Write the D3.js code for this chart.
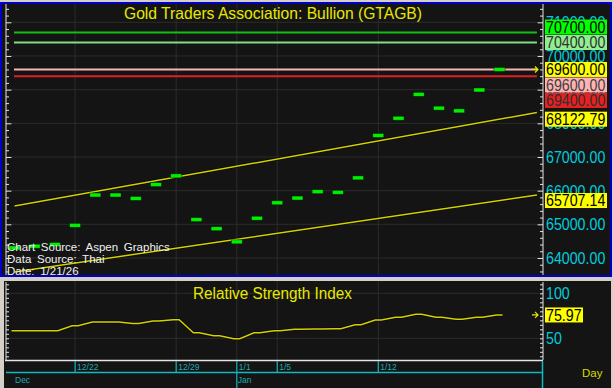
<!DOCTYPE html>
<html><head><meta charset="utf-8">
<script src="https://cdn.jsdelivr.net/npm/d3@7/dist/d3.min.js"></script>
<style>
body{margin:0;background:#d4d0c8;}
svg{display:block}
text{font-family:"Liberation Sans",Arial,sans-serif}
</style></head><body>
<svg id="chart" width="613" height="388"></svg>
<script>
// daily closes, Dec 17 to Jan 20
const dates = ["12/17","12/18","12/19","12/22","12/23","12/24","12/25","12/26","12/29","12/30","12/31","1/1","1/2",
  "1/5","1/6","1/7","1/8","1/9","1/12","1/13","1/14","1/15","1/16","1/19","1/20"];
const closes = [64300,64350,64400,64970,65870,65870,65770,66180,66440,65140,64870,64480,65180,
  65640,65780,65970,65950,66380,67640,68150,68860,68450,68370,68990,69600];
const rsi = [58.4,58.4,58.4,64.0,68.1,68.1,66.6,69.2,70.7,56.2,52.9,49.6,56.2,
  58.4,60.0,60.3,60.7,65.1,70.3,73.3,76.7,73.3,71.1,73.3,75.97];

const tickDates = ["12/22","12/29","1/1","1/5","1/12"];
const monthNames = ["Dec","Jan"];
const monthStarts = ["12/17","1/1"];

const priceTicks = [64000,65000,66000,67000,68000,69000,70000,71000];
const rsiTicks = [50,100];

const levelValues = [70700,70400,69600,69400];
const levelLine = ["#10c010","#80e080","#f2b6b6","#e02020"];
const levelBox = ["#00ff00","#90ee90","#ffb4b4","#e82020"];
const levelText = ["#000","#303030","#404040","#303030"];

// trend channel: value at first bar and at last bar
const trendUpper = [65544, 68122.79];
const trendLower = [63584, 65707.14];

const svg = d3.select("#chart");
const W = 613, H = 388;
const gridColor = "#2c2c2c", axisColor = "#e4e4e4", cyan = "#00ccdd", yellow = "#e8e800";

// squeeze numeric labels to the narrow screen font width
const numWidth = s => [...s].reduce((w, c) => w + (c === "." ? 4 : 7.9), 0);

svg.append("rect").attr("width", W).attr("height", H).attr("fill", "#d4d0c8");

// panels
svg.append("rect").attr("x", 1).attr("y", 3).attr("width", 610).attr("height", 273)
  .attr("fill", "#141414").attr("stroke", "#0000c8").attr("stroke-width", 2);
svg.append("rect").attr("x", 4).attr("y", 281).attr("width", 607).attr("height", 107)
  .attr("fill", "#141414");

const n = dates.length;
const x = d3.scaleLinear().domain([-0.42, 26.15]).range([6, 543]);
const y = d3.scaleLinear().domain([63480, 71544]).range([275.5, 4]);
const yr = d3.scaleLinear().domain([25.9, 113.7]).range([360, 281]);
const idx = d => dates.indexOf(d);
const lineEnd = 25.85;

// ---- main panel ----
const g = svg.append("g");
g.selectAll(".hg").data(priceTicks).join("line")
  .attr("x1", 6).attr("x2", 543).attr("y1", d => y(d)).attr("y2", d => y(d))
  .attr("stroke", gridColor);
g.selectAll(".vg").data(tickDates).join("line")
  .attr("x1", d => x(idx(d))).attr("x2", d => x(idx(d))).attr("y1", 4).attr("y2", 275)
  .attr("stroke", gridColor);

// left / right tick axes
const minor = d3.range(63600, 71600, 200);
const leftAx = svg.append("g").attr("transform", "translate(6,0)")
  .call(d3.axisRight(y).tickValues(minor).tickSize(3).tickFormat(""));
const rightAx = svg.append("g").attr("transform", "translate(543,0)")
  .call(d3.axisLeft(y).tickValues(minor).tickSize(3).tickFormat(""));
[leftAx, rightAx].forEach(a => {
  a.selectAll(".tick line").attr("stroke", axisColor)
    .attr("x2", function(d) { const s = +d3.select(this).attr("x2"); return d % 1000 === 0 ? s * 1.8 : s; });
  a.select(".domain").attr("stroke", axisColor).attr("d", "M0,4V275");
});

// support / resistance lines
g.selectAll(".lvl").data(levelValues).join("line")
  .attr("x1", x(0) - 0.5).attr("x2", x(lineEnd)).attr("y1", d => y(d)).attr("y2", d => y(d))
  .attr("stroke", (d, i) => levelLine[i]).attr("stroke-width", 2);

// trend lines
const trendAt = (t, i) => t[0] + (t[1] - t[0]) * i / (n - 1);
[trendUpper, trendLower].forEach(t => {
  g.append("line")
    .attr("x1", x(0)).attr("y1", y(trendAt(t, 0)))
    .attr("x2", x(lineEnd)).attr("y2", y(trendAt(t, lineEnd)))
    .attr("stroke", "#000").attr("stroke-width", 3).attr("stroke-opacity", 0.6);
  g.append("line")
    .attr("x1", x(0)).attr("y1", y(trendAt(t, 0)))
    .attr("x2", x(lineEnd)).attr("y2", y(trendAt(t, lineEnd)))
    .attr("stroke", "#d2d200").attr("stroke-width", 1.5);
});

// close bars
g.selectAll(".bar").data(closes).join("rect")
  .attr("x", (d, i) => x(i) - 5.5).attr("y", d => y(d) - 2)
  .attr("width", 11).attr("height", 4)
  .attr("fill", "#00f000").attr("stroke", "#000").attr("stroke-opacity", 0.5).attr("stroke-width", 0.8);

// title
svg.append("text").attr("x", 124).attr("y", 19)
  .attr("fill", yellow).attr("font-size", 16.5)
  .attr("textLength", 298).attr("lengthAdjust", "spacingAndGlyphs")
  .text("Gold  Traders  Association:  Bullion  (GTAGB)");

// source notes
const notes = ["Chart Source: Aspen Graphics", "Data Source: Thai", "Date: 1/21/26"];
svg.selectAll(".note").data(notes).join("text")
  .attr("x", 7).attr("y", (d, i) => 251 + i * 12).attr("fill", "#f0f0f0")
  .attr("font-size", 11.5).attr("word-spacing", 2.5).text(d => d);

// right axis labels
const fmt = d3.format(".2f");
svg.selectAll(".pl").data(priceTicks).join("text")
  .attr("x", 546).attr("y", d => y(d)).attr("dy", "0.36em")
  .attr("fill", cyan).attr("font-size", 16.5)
  .attr("textLength", d => numWidth(fmt(d))).attr("lengthAdjust", "spacingAndGlyphs")
  .text(d => fmt(d));

// value boxes, stacked around the last price
const last = closes[n - 1];
const boxes = [
  ...levelValues.map((v, i) => ({ v, bg: levelBox[i], fg: levelText[i], anchor: false })),
  { v: last, bg: "#ffff00", fg: "#000", anchor: true },
  { v: trendUpper[1], bg: "#ffff00", fg: "#000", anchor: false },
  { v: trendLower[1], bg: "#ffff00", fg: "#000", anchor: false }
];
boxes.sort((a, b) => b.v - a.v || (b.anchor - a.anchor));
const bh = 15.5;
boxes.forEach(b => b.cy = y(b.v));
const ai = boxes.findIndex(b => b.anchor);
for (let i = ai - 1; i >= 0; i--) boxes[i].cy = Math.min(boxes[i].cy, boxes[i + 1].cy - bh);
for (let i = ai + 1; i < boxes.length; i++) boxes[i].cy = Math.max(boxes[i].cy, boxes[i - 1].cy + bh);
const bg = svg.selectAll(".box").data(boxes).join("g")
  .attr("transform", d => `translate(545,${d.cy})`);
bg.append("rect").attr("x", 0).attr("y", -7.5).attr("width", 62).attr("height", 15).attr("fill", d => d.bg);
bg.append("text").attr("x", 1).attr("dy", "0.36em")
  .attr("font-size", 16.5).attr("fill", d => d.fg)
  .attr("textLength", d => numWidth(fmt(d.v))).attr("lengthAdjust", "spacingAndGlyphs")
  .text(d => fmt(d.v));

const arrow = "M-6,0H0M-3,-3L0,0L-3,3";
svg.append("path").attr("d", arrow).attr("transform", `translate(538,${y(last)})`)
  .attr("stroke", yellow).attr("fill", "none").attr("stroke-width", 1.2);

// ---- RSI panel ----
const r = svg.append("g");
r.selectAll(".rg").data(rsiTicks).join("line")
  .attr("x1", 6).attr("x2", 543).attr("y1", d => yr(d)).attr("y2", d => yr(d)).attr("stroke", gridColor);
r.selectAll(".rv").data(tickDates).join("line")
  .attr("x1", d => x(idx(d))).attr("x2", d => x(idx(d))).attr("y1", 281).attr("y2", 360).attr("stroke", gridColor);

const rMinor = d3.range(30, 115, 5);
const rl = svg.append("g").attr("transform", "translate(6,0)")
  .call(d3.axisRight(yr).tickValues(rMinor).tickSize(3).tickFormat(""));
const rr = svg.append("g").attr("transform", "translate(543,0)")
  .call(d3.axisLeft(yr).tickValues(rMinor).tickSize(3).tickFormat(""));
[rl, rr].forEach(a => {
  a.selectAll(".tick line").attr("stroke", axisColor);
  a.select(".domain").attr("stroke", axisColor).attr("d", "M0,282V360");
});
svg.append("line").attr("x1", 5).attr("x2", 543).attr("y1", 360.5).attr("y2", 360.5)
  .attr("stroke", axisColor).attr("stroke-width", 1.5);

const rsiPts = rsi.flatMap((v, i) => [[x(i) - 3, yr(v)], [x(i) + 3, yr(v)]]);
r.append("path").attr("d", d3.line()(rsiPts)).attr("fill", "none")
  .attr("stroke", "#000").attr("stroke-width", 3).attr("stroke-opacity", 0.6);
r.append("path").attr("d", d3.line()(rsiPts)).attr("fill", "none")
  .attr("stroke", "#d2d200").attr("stroke-width", 1.5);

svg.append("text").attr("x", 193).attr("y", 299)
  .attr("font-size", 16).attr("fill", yellow)
  .attr("textLength", 159).attr("lengthAdjust", "spacingAndGlyphs")
  .text("Relative  Strength  Index");

svg.selectAll(".rl").data(rsiTicks).join("text")
  .attr("x", 546).attr("y", d => yr(d)).attr("dy", "0.36em")
  .attr("fill", cyan).attr("font-size", 16.5)
  .attr("textLength", d => numWidth(String(d))).attr("lengthAdjust", "spacingAndGlyphs")
  .text(d => d);

const lastR = rsi[n - 1];
const rb = svg.append("g").attr("transform", `translate(545,${yr(lastR)})`);
rb.append("rect").attr("y", -7.5).attr("width", 38).attr("height", 15).attr("fill", "#ffff00");
rb.append("text").attr("x", 1).attr("dy", "0.36em").attr("font-size", 16.5)
  .attr("textLength", numWidth(fmt(lastR))).attr("lengthAdjust", "spacingAndGlyphs")
  .attr("fill", "#000").text(fmt(lastR));
svg.append("path").attr("d", arrow).attr("transform", `translate(538,${yr(lastR)})`)
  .attr("stroke", yellow).attr("fill", "none").attr("stroke-width", 1.2);

// ---- date axis ----
const dc = "#10b8c0";
svg.append("line").attr("x1", 6).attr("x2", 542).attr("y1", 372.5).attr("y2", 372.5).attr("stroke", dc).attr("stroke-width", 1.5);
svg.append("line").attr("x1", 542.5).attr("x2", 542.5).attr("y1", 361).attr("y2", 388).attr("stroke", dc).attr("stroke-width", 1.5);
svg.selectAll(".dt").data(tickDates).join("line")
  .attr("x1", d => x(idx(d))).attr("x2", d => x(idx(d))).attr("y1", 361).attr("y2", 372)
  .attr("stroke", dc).attr("stroke-width", 1.2);
svg.selectAll(".dl").data(tickDates).join("text")
  .attr("x", d => x(idx(d)) + 2).attr("y", 369.5)
  .attr("font-size", 8.5).attr("fill", "#20a8b0").text(d => d);
svg.selectAll(".mt").data(monthStarts.slice(1)).join("line")
  .attr("x1", d => x(idx(d))).attr("x2", d => x(idx(d))).attr("y1", 372).attr("y2", 388)
  .attr("stroke", dc).attr("stroke-width", 1.2);
svg.selectAll(".ml").data(monthNames).join("text")
  .attr("x", (d, i) => i === 0 ? 15 : x(idx(monthStarts[i])) + 1).attr("y", 383)
  .attr("font-size", 8.5).attr("fill", "#20a8b0").text(d => d);
svg.append("text").attr("x", 582).attr("y", 377)
  .attr("font-size", 11.5).attr("fill", "#d8d800").text("Day");
</script>
</body></html>
